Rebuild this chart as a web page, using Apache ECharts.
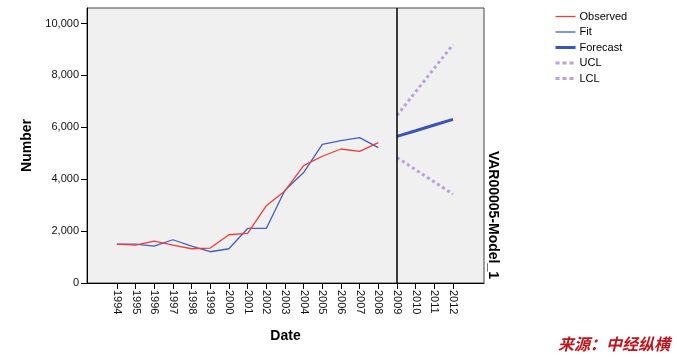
<!DOCTYPE html>
<html>
<head>
<meta charset="utf-8">
<script src="https://cdn.jsdelivr.net/npm/echarts@6/dist/echarts.min.js"></script>
<style>html,body{margin:0;padding:0;background:#fff}#c{width:677px;height:357px}</style>
</head>
<body>
<div id="c"></div>
<script>
var histYears = [1994,1995,1996,1997,1998,1999,2000,2001,2002,2003,2004,2005,2006,2007,2008];
var observed = [1500,1460,1615,1460,1320,1346,1860,1910,2975,3550,4525,4885,5165,5077,5410];
var fit = [1500,1500,1423,1667,1423,1205,1320,2103,2103,3577,4256,5346,5487,5603,5218];
var fcYears = [2009,2010,2011,2012];
var forecast = [5654,5870,6090,6308];
var ucl = [6460,7370,8280,9190];
var lcl = [4835,4365,3895,3420];
var yearTicks = [1994,1995,1996,1997,1998,1999,2000,2001,2002,2003,2004,2005,2006,2007,2008,2009,2010,2011,2012];
var yTicks = [0,2000,4000,6000,8000,10000];

function pairs(xs, ys){ return xs.map(function(x,i){ return [x, ys[i]]; }); }

var font = 'Liberation Sans, Arial, sans-serif';
var chart = echarts.init(document.getElementById('c'));
chart.setOption({
  animation: false,
  backgroundColor: '#fff',
  grid: { left: 87, right: 193, top: 8, bottom: 74, show: true, backgroundColor: '#f0f0f0', borderColor: '#444', borderWidth: 1 },
  legend: {
    orient: 'vertical', left: 549, top: 6, itemWidth: 20, itemHeight: 10, itemGap: 4.5,
    itemStyle: { color: 'transparent', borderWidth: 0, opacity: 0 },
    textStyle: { fontFamily: font, fontSize: 11, color: '#000', padding: [0,0,0,-1] },
    data: [
      { name: 'Observed', lineStyle: { width: 1.3 } },
      { name: 'Fit', lineStyle: { width: 1.3 } },
      { name: 'Forecast', lineStyle: { width: 3 } },
      { name: 'UCL', lineStyle: { width: 3, type: [4,3] } },
      { name: 'LCL', lineStyle: { width: 3, type: [4,3] } }
    ]
  },
  xAxis: {
    type: 'value', min: 1992.4, max: 2013.66,
    name: 'Date', nameLocation: 'middle', nameGap: 46,
    nameTextStyle: { fontFamily: font, fontSize: 14, fontWeight: 'bold', color: '#000' },
    axisLine: { show: true, lineStyle: { color: '#000', width: 1 } },
    axisTick: { show: true, length: 6, customValues: yearTicks, lineStyle: { color: '#000' } },
    axisLabel: { rotate: -90, margin: 7, customValues: yearTicks, fontFamily: font, fontSize: 11, color: '#111', formatter: function(v){ return String(v); } },
    splitLine: { show: false }
  },
  yAxis: {
    type: 'value', min: 0, max: 10600,
    name: 'Number', nameLocation: 'middle', nameGap: 48, nameRotate: 90,
    nameTextStyle: { fontFamily: font, fontSize: 14, fontWeight: 'bold', color: '#000' },
    axisLine: { show: true, lineStyle: { color: '#000', width: 1 } },
    axisTick: { show: true, length: 6, customValues: yTicks, lineStyle: { color: '#000' } },
    axisLabel: { margin: 8, customValues: yTicks, fontFamily: font, fontSize: 11, color: '#111',
      formatter: function(v){ return v.toLocaleString('en-US'); } },
    splitLine: { show: false }
  },
  series: [
    { name: 'Observed', type: 'line', data: pairs(histYears, observed), symbol: 'none', lineStyle: { color: '#f23c3c', width: 1.3 }, itemStyle: { color: '#f23c3c' }, z: 3,
      markLine: { silent: true, symbol: 'none', label: { show: false }, lineStyle: { color: '#000', width: 1.5, type: 'solid' }, data: [{ xAxis: 2009 }] } },
    { name: 'Fit', type: 'line', data: pairs(histYears, fit), symbol: 'none', lineStyle: { color: '#4260c0', width: 1.3 }, itemStyle: { color: '#4260c0' }, z: 2 },
    { name: 'Forecast', type: 'line', data: pairs(fcYears, forecast), symbol: 'none', lineStyle: { color: '#3a55b3', width: 3 }, itemStyle: { color: '#3a55b3' } },
    { name: 'UCL', type: 'line', data: pairs(fcYears, ucl), symbol: 'none', lineStyle: { color: '#b9a2d8', width: 3, type: [3,3] }, itemStyle: { color: '#b9a2d8' } },
    { name: 'LCL', type: 'line', data: pairs(fcYears, lcl), symbol: 'none', lineStyle: { color: '#b9a2d8', width: 3, type: [3,3] }, itemStyle: { color: '#b9a2d8' } }
  ],
  graphic: [
    { type: 'text', x: 493, y: 215, rotation: -Math.PI/2,
      style: { text: 'VAR00005-Model_1', font: 'bold 14px ' + font, fill: '#000', align: 'center', verticalAlign: 'middle' } },
    { type: 'text', right: 7, top: 336,
      style: { text: '来源：中经纵横', font: 'italic bold 16px "Noto Sans CJK SC", sans-serif', fill: '#c0141c' } }
  ]
});
</script>
</body>
</html>
